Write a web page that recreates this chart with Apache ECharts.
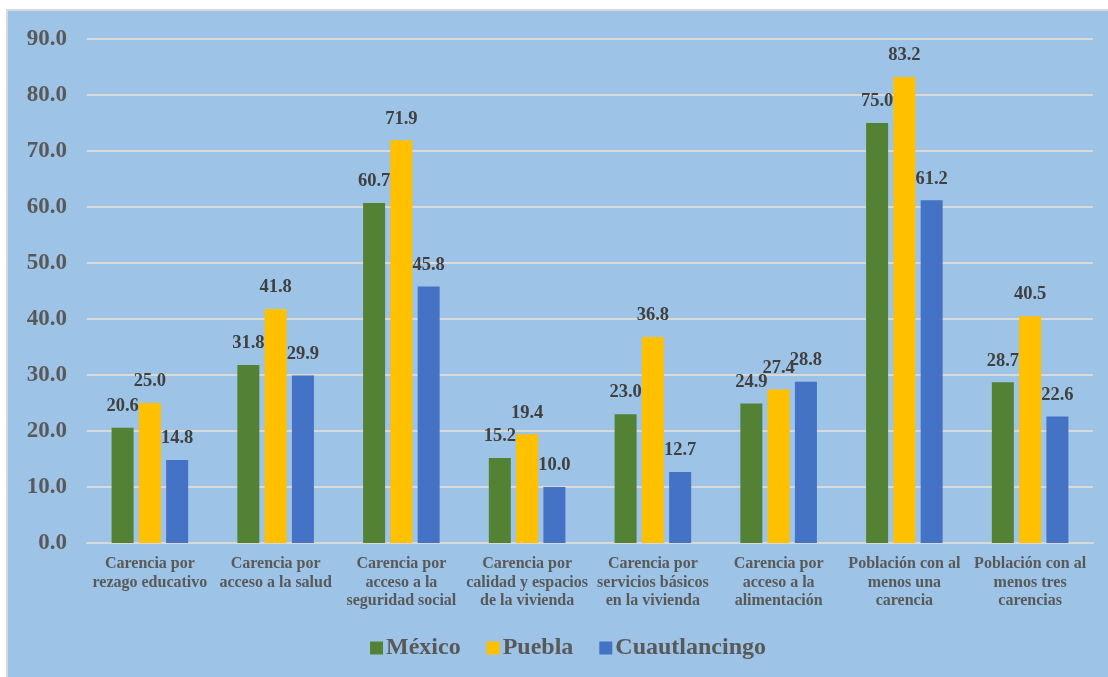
<!DOCTYPE html>
<html>
<head>
<meta charset="utf-8">
<script src="https://cdn.jsdelivr.net/npm/echarts@6/dist/echarts.min.js"></script>
<style>
  html, body { margin: 0; padding: 0; background: #ffffff; }
  #frame { position: absolute; left: 6px; top: 9px; width: 1110px; height: 680px; background: #9DC3E6; border: 2px solid #D9D9D9; box-sizing: border-box; }
  #chart { position: absolute; left: 0; top: 0; width: 1108px; height: 677px; }
</style>
</head>
<body>
<div id="frame"></div>
<div id="chart"></div>
<script>
const categories = [
  'Carencia por\nrezago educativo',
  'Carencia por\nacceso a la salud',
  'Carencia por\nacceso a la\nseguridad social',
  'Carencia por\ncalidad y espacios\nde la vivienda',
  'Carencia por\nservicios básicos\nen la vivienda',
  'Carencia por\nacceso a la\nalimentación',
  'Población con al\nmenos una\ncarencia',
  'Población con al\nmenos tres\ncarencias'
];
const mexico = [20.6, 31.8, 60.7, 15.2, 23.0, 24.9, 75.0, 28.7];
const puebla = [25.0, 41.8, 71.9, 19.4, 36.8, 27.4, 83.2, 40.5];
const cuautlancingo = [14.8, 29.9, 45.8, 10.0, 12.7, 28.8, 61.2, 22.6];
const yTicks = { min: 0, max: 90, interval: 10 };

const font = '"Liberation Serif", "Times New Roman", serif';
const chart = echarts.init(document.getElementById('chart'), null, { renderer: 'canvas' });

function series(name, data, color) {
  return {
    name, type: 'bar', data, barWidth: 22, barGap: '24%',
    itemStyle: { color },
    label: {
      show: true, position: 'top', distance: 12,
      formatter: p => p.value.toFixed(1),
      fontFamily: font, fontWeight: 'bold', fontSize: 18.5, color: '#404040'
    }
  };
}

chart.setOption({
  animation: false,
  backgroundColor: 'transparent',
  textStyle: { fontFamily: font },
  grid: { left: 87, right: 15, top: 39, bottom: 134, containLabel: false },
  legend: {
    bottom: 12, left: 365, itemWidth: 13, itemHeight: 13, itemGap: 26,
    icon: 'rect',
    textStyle: { fontFamily: font, fontWeight: 'bold', fontSize: 24, color: '#595959', padding: [0, 0, 0, -2] },
    data: ['México', 'Puebla', 'Cuautlancingo']
  },
  xAxis: {
    type: 'category', data: categories,
    axisLine: { lineStyle: { color: '#D9D9D9', width: 2 } },
    axisTick: { show: false },
    axisLabel: {
      interval: 0, margin: 12, fontFamily: font, fontWeight: 'bold',
      fontSize: 16, lineHeight: 18.5, color: '#595959'
    }
  },
  yAxis: {
    type: 'value', min: yTicks.min, max: yTicks.max, interval: yTicks.interval,
    axisLine: { show: false }, axisTick: { show: false },
    splitLine: { lineStyle: { color: '#D9D9D9', width: 2 } },
    axisLabel: {
      formatter: v => v.toFixed(1), margin: 20,
      fontFamily: font, fontWeight: 'bold', fontSize: 23, color: '#595959'
    }
  },
  series: [
    series('México', mexico, '#548235'),
    series('Puebla', puebla, '#FFC000'),
    series('Cuautlancingo', cuautlancingo, '#4472C4')
  ]
});
</script>
</body>
</html>
